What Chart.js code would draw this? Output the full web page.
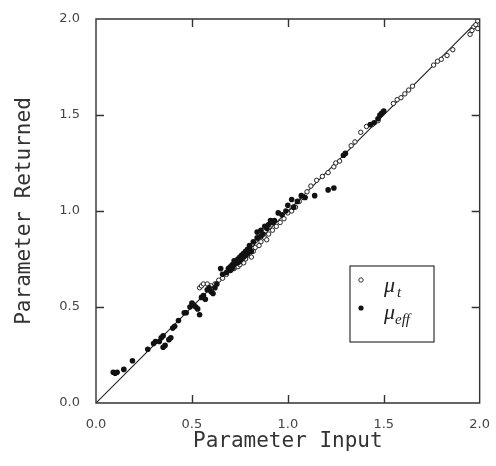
<!DOCTYPE html>
<html>
<head>
<meta charset="utf-8">
<script src="https://cdn.jsdelivr.net/npm/chart.js@4.4.1/dist/chart.umd.min.js"></script>
<style>
  body { margin: 0; background: #fff; }
  #wrap { width: 496px; height: 466px; }
</style>
</head>
<body>
<div id="wrap"><canvas id="plot" width="496" height="466"></canvas></div>
<script>
// mu_t (open circles)
const tInput = [0.54, 0.55, 0.56, 0.58, 0.60, 0.62, 0.64, 0.66, 0.68, 0.70, 0.72, 0.73, 0.74, 0.75, 0.76, 0.77,
  0.78, 0.79, 0.80, 0.81, 0.82, 0.83, 0.85, 0.86, 0.88, 0.89, 0.90, 0.92, 0.94, 0.96, 0.98, 1.00, 1.02, 1.04,
  1.06, 1.08, 1.10, 1.12, 1.15, 1.18, 1.21, 1.24, 1.25, 1.27, 1.33, 1.35, 1.38, 1.41, 1.44, 1.47, 1.55, 1.57,
  1.59, 1.61, 1.63, 1.65, 1.76, 1.78, 1.80, 1.83, 1.86, 1.95, 1.96, 1.97, 1.98, 1.99, 1.99];
const tReturned = [0.60, 0.61, 0.62, 0.62, 0.61, 0.62, 0.64, 0.65, 0.67, 0.69, 0.70, 0.71, 0.71, 0.72, 0.74, 0.73,
  0.75, 0.77, 0.78, 0.76, 0.79, 0.81, 0.82, 0.84, 0.86, 0.85, 0.88, 0.90, 0.92, 0.94, 0.96, 0.99, 1.00, 1.02,
  1.05, 1.07, 1.10, 1.13, 1.16, 1.18, 1.20, 1.23, 1.25, 1.26, 1.34, 1.36, 1.41, 1.44, 1.45, 1.47, 1.56, 1.58,
  1.59, 1.61, 1.63, 1.65, 1.76, 1.78, 1.79, 1.81, 1.84, 1.92, 1.94, 1.96, 1.97, 1.95, 1.99];

// mu_eff (filled circles)
const effInput = [0.09, 0.10, 0.11, 0.145, 0.19, 0.27, 0.30, 0.31, 0.33, 0.34, 0.35, 0.35, 0.36, 0.38, 0.39, 0.40,
  0.41, 0.43, 0.46, 0.47, 0.49, 0.50, 0.51, 0.52, 0.53, 0.54, 0.55, 0.56, 0.57, 0.58, 0.59, 0.60, 0.61, 0.62,
  0.63, 0.65, 0.66, 0.68, 0.69, 0.70, 0.70, 0.71, 0.71, 0.72, 0.72, 0.73, 0.74, 0.74, 0.75, 0.75, 0.76, 0.76,
  0.77, 0.77, 0.78, 0.78, 0.79, 0.79, 0.80, 0.80, 0.81, 0.82, 0.84, 0.84, 0.86, 0.86, 0.87, 0.88, 0.89, 0.90,
  0.91, 0.92, 0.93, 0.95, 0.97, 0.99, 1.00, 1.02, 1.03, 1.05, 1.07, 1.09, 1.14, 1.21, 1.24, 1.29, 1.30, 1.43,
  1.45, 1.47, 1.48, 1.49, 1.50];
const effReturned = [0.16, 0.155, 0.16, 0.175, 0.22, 0.28, 0.31, 0.32, 0.32, 0.34, 0.35, 0.29, 0.30, 0.33, 0.34, 0.39,
  0.40, 0.43, 0.47, 0.47, 0.50, 0.52, 0.51, 0.50, 0.49, 0.46, 0.55, 0.56, 0.54, 0.59, 0.60, 0.58, 0.57, 0.60,
  0.62, 0.70, 0.67, 0.68, 0.70, 0.71, 0.69, 0.72, 0.70, 0.74, 0.72, 0.73, 0.75, 0.73, 0.74, 0.76, 0.77, 0.75,
  0.76, 0.78, 0.79, 0.77, 0.78, 0.80, 0.80, 0.82, 0.79, 0.84, 0.86, 0.89, 0.90, 0.87, 0.88, 0.92, 0.91, 0.93,
  0.95, 0.94, 0.95, 0.99, 0.98, 1.00, 1.03, 1.06, 1.02, 1.05, 1.08, 1.07, 1.08, 1.11, 1.12, 1.29, 1.30, 1.45,
  1.46, 1.48, 1.50, 1.51, 1.52];

// y = x reference line
const lineInput = [0, 2];
const axisMin = 0, axisMax = 2;
const tickValues = [0.5, 1.0, 1.5];

const toPoints = (xs, ys) => xs.map((v, i) => ({ x: v, y: ys[i] }));

// frame with inward ticks on all four sides, plus the boxed legend
const framePlugin = {
    id: 'frame',
    afterDraw(chart) {
        const ctx = chart.ctx;
        const a = chart.chartArea;
        const w = a.right - a.left, h = a.bottom - a.top;
        const len = 8;
        ctx.save();
        ctx.strokeStyle = '#333';
        ctx.lineWidth = 1.4;
        ctx.beginPath();
        ctx.rect(a.left, a.top, w, h);
        for (let i = 0; i < tickValues.length; i++) {
            const f = (tickValues[i] - axisMin) / (axisMax - axisMin);
            const px = Math.round(a.left + f * w) + 0.5;
            const py = Math.round(a.bottom - f * h) + 0.5;
            ctx.moveTo(px, a.bottom);
            ctx.lineTo(px, a.bottom - len);
            ctx.moveTo(px, a.top);
            ctx.lineTo(px, a.top + len);
            ctx.moveTo(a.left, py);
            ctx.lineTo(a.left + len, py);
            ctx.moveTo(a.right, py);
            ctx.lineTo(a.right - len, py);
        }
        ctx.stroke();

        // legend box
        const bx = 350, by = 266, bw = 84, bh = 76;
        ctx.lineWidth = 1.2;
        ctx.strokeRect(bx, by, bw, bh);
        ctx.lineWidth = 1;
        ctx.fillStyle = '#fff';
        ctx.beginPath(); ctx.arc(bx + 11, by + 14, 2.2, 0, Math.PI * 2); ctx.fill(); ctx.stroke();
        ctx.fillStyle = '#111';
        ctx.beginPath(); ctx.arc(bx + 11, by + 42, 2.6, 0, Math.PI * 2); ctx.fill();
        ctx.fillStyle = '#222';
        ctx.textBaseline = 'alphabetic';
        ctx.font = 'italic 22px "Liberation Serif"';
        ctx.fillText('\u03bc', bx + 34, by + 26);
        ctx.fillText('\u03bc', bx + 34, by + 53);
        ctx.font = 'italic 15px "Liberation Serif"';
        ctx.fillText('t', bx + 47, by + 31);
        ctx.fillText('eff', bx + 45, by + 58);
        ctx.restore();
    }
};

const tickFont = { family: 'DejaVu Sans', size: 13 };
const titleFont = { family: 'DejaVu Sans Mono', size: 21 };

new Chart(document.getElementById('plot').getContext('2d'), {
    type: 'scatter',
    data: {
        datasets: [
            {
                type: 'line',
                data: toPoints(lineInput, lineInput),
                borderColor: '#222',
                borderWidth: 1.1,
                pointRadius: 0,
                order: 3
            },
            {
                label: '\u03bc_t',
                data: toPoints(tInput, tReturned),
                pointStyle: 'circle',
                pointRadius: 2.2,
                backgroundColor: '#fff',
                borderColor: '#222',
                borderWidth: 1,
                order: 2
            },
            {
                label: '\u03bc_eff',
                data: toPoints(effInput, effReturned),
                pointStyle: 'circle',
                pointRadius: 2.8,
                backgroundColor: '#111',
                borderColor: '#111',
                borderWidth: 0,
                order: 1
            }
        ]
    },
    options: {
        responsive: false,
        animation: false,
        layout: { padding: { top: 19, right: 13, left: 0, bottom: 0 } },
        plugins: { legend: { display: false }, tooltip: { enabled: false } },
        scales: {
            x: {
                type: 'linear',
                min: axisMin, max: axisMax,
                grid: { display: false },
                border: { display: false },
                ticks: { stepSize: 0.5, color: '#444', font: tickFont, padding: 6, callback: v => v.toFixed(1) },
                title: { display: true, text: 'Parameter Input', color: '#333', font: titleFont, padding: { top: 0, bottom: 12 } },
                afterFit: s => { s.height = 63; }
            },
            y: {
                type: 'linear',
                min: axisMin, max: axisMax,
                grid: { display: false },
                border: { display: false },
                ticks: { stepSize: 0.5, color: '#444', font: tickFont, padding: 8, callback: v => v.toFixed(1) },
                title: { display: true, text: 'Parameter Returned', color: '#333', font: titleFont, padding: { top: 12, bottom: 0 } },
                afterFit: s => { s.width = 96; }
            }
        }
    },
    plugins: [framePlugin]
});
</script>
</body>
</html>
